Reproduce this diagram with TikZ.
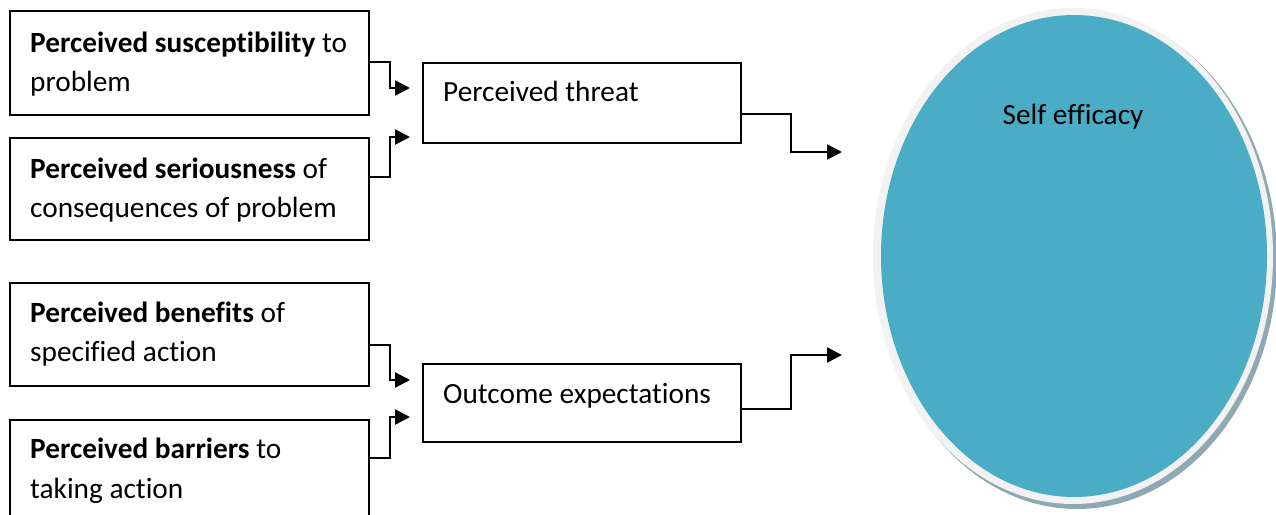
\documentclass[tikz,border=0pt]{standalone}
\usepackage{fontspec}
\setmainfont{Carlito}[Ligatures={NoCommon,NoContextual}]
\usetikzlibrary{arrows.meta,shapes.geometric}
\definecolor{effblue}{HTML}{4BACC6}
\definecolor{effrim}{HTML}{F2F2F2}
\definecolor{effshadow}{HTML}{8FA9B4}
\begin{document}
\begin{tikzpicture}[x=1pt,y=-1pt,
  box/.style={draw=black,line width=1.8pt,rectangle,inner sep=0pt,anchor=north west},
  txt/.style={anchor=base west,inner sep=0pt,font=\fontsize{29.3}{39}\selectfont},
  conn/.style={line width=2.4pt,-{Triangle[length=15pt,width=15pt]}}]
\clip (0,0) rectangle (1276,514);
\fill[white] (0,0) rectangle (1276,514);
% left boxes
\node[box,minimum width=359pt,minimum height=104pt] (b1) at (9,10) {};
\node[box,minimum width=359pt,minimum height=102pt] (b2) at (9,137) {};
\node[box,minimum width=359pt,minimum height=103pt] (b3) at (9,282) {};
\node[box,minimum width=359pt,minimum height=120pt] (b4) at (9,419) {};
\node[txt] (t1a) at (30,52) {\textbf{Perceived susceptibility} to};
\node[txt] (t1b) at (30,91) {problem};
\node[txt] (t2a) at (30,178) {\textbf{Perceived seriousness} of};
\node[txt] (t2b) at (30,217) {consequences of problem};
\node[txt] (t3a) at (30,322) {\textbf{Perceived benefits} of};
\node[txt] (t3b) at (30,361) {specified action};
\node[txt] (t4a) at (30,458) {\textbf{Perceived barriers} to};
\node[txt] (t4b) at (30,498) {taking action};
% middle boxes
\node[box,minimum width=318pt,minimum height=80pt] (thr) at (422,62) {};
\node[box,minimum width=318pt,minimum height=78pt] (out) at (422,363) {};
\node[txt] (tthr) at (443,101) {Perceived threat};
\node[txt] (tout) at (443,403) {Outcome expectations};
% ellipse
\fill[effshadow] (1077,260) ellipse [x radius=200pt, y radius=249pt];
\fill[effrim] (1073,256) ellipse [x radius=200pt, y radius=248pt];
\node[ellipse,fill=effblue,minimum width=386pt,minimum height=482pt,inner sep=0pt] (se) at (1074,256) {};
\node[anchor=base,inner sep=0pt,font=\fontsize{29.3}{39}\selectfont] (tse) at (1073,124) {Self efficacy};
% connector coordinates
\coordinate (s1) at (b1.east |- 0,62);
\coordinate (e1) at (410,88);
\coordinate (s2) at (b2.east |- 0,177);
\coordinate (e2) at (410,137);
\coordinate (s3) at (b3.east |- 0,345);
\coordinate (e3) at (410,380);
\coordinate (s4) at (b4.east |- 0,458);
\coordinate (e4) at (410,417);
\coordinate (s5) at (thr.east |- 0,114);
\coordinate (e5) at (842,152);
\coordinate (s6) at (out.east |- 0,409);
\coordinate (e6) at (842,355);
\draw[conn] (s1) -- (390,62) -- (390,88) -- (e1);
\draw[conn] (s2) -- (390,177) -- (390,137) -- (e2);
\draw[conn] (s3) -- (390,345) -- (390,380) -- (e3);
\draw[conn] (s4) -- (390,458) -- (390,417) -- (e4);
\draw[conn] (s5) -- (791,114) -- (791,152) -- (e5);
\draw[conn] (s6) -- (791,409) -- (791,355) -- (e6);
\end{tikzpicture}
\end{document}
